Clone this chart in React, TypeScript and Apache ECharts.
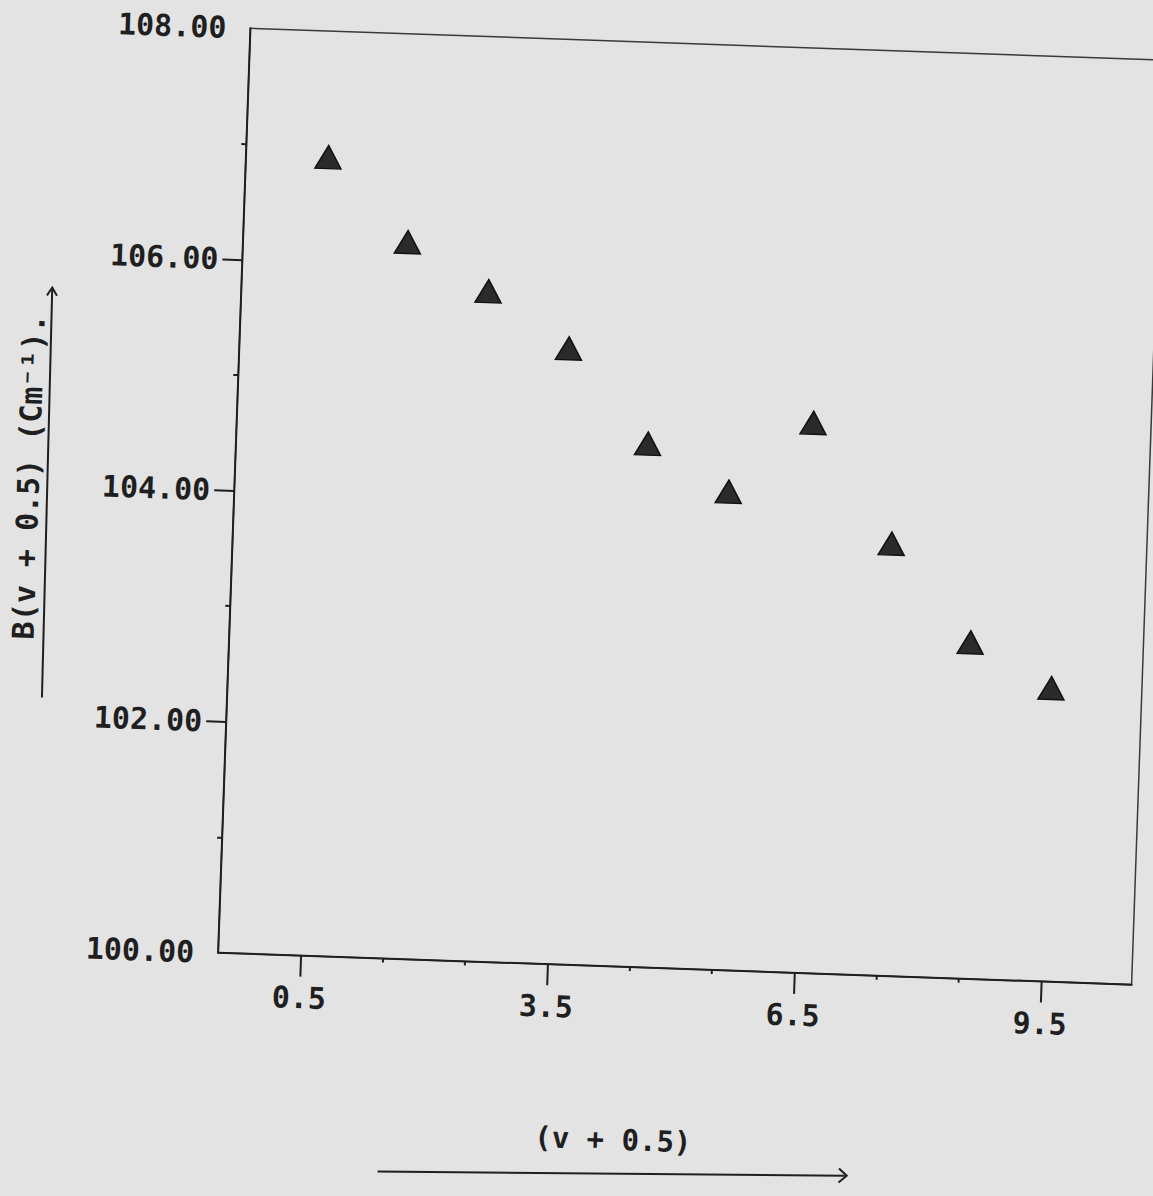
import React, { useEffect, useRef } from "react";
import * as echarts from "echarts";

// ---- data ----
const xValues = [0.5, 1.5, 2.5, 3.5, 4.5, 5.5, 6.5, 7.5, 8.5, 9.5];
const yValues = [106.91, 106.2, 105.8, 105.33, 104.53, 104.14, 104.76, 103.74, 102.91, 102.54];
const xTickLabels = [0.5, 3.5, 6.5, 9.5];
const xMinorTicks = [1.5, 2.5, 4.5, 5.5, 7.5, 8.5];
const yTickLabels = [100, 102, 104, 106, 108];
const yMajorTicks = [102, 104, 106];
const yMinorTicks = [101, 103, 105, 107];
const xTitle = "(v + 0.5)";
const yTitle = "B(v + 0.5) (Cm⁻¹).";

const INK = "#1f1f1f";
const PAPER = "#e3e3e4";
const FONT = "DejaVu Sans Mono";

export default function App() {
  const ref = useRef<HTMLDivElement>(null);

  useEffect(() => {
    if (!ref.current) return;
    const chart = echarts.init(ref.current, null, { renderer: "svg", width: 1153, height: 1196 });
    const points = xValues.map((x, i) => [x, yValues[i]]);

    const gridLeft = 234;
    const gridTop = 44;
    const gridW = 914;
    const gridH = 925;

    chart.setOption({
      animation: false,
      backgroundColor: "transparent",
      grid: {
        left: gridLeft,
        top: gridTop,
        width: gridW,
        height: gridH,
        show: true,
        borderColor: "#3a3a3a",
        borderWidth: 1.5,
        backgroundColor: "transparent",
      },
      xAxis: [
        {
          type: "value",
          min: -0.5,
          max: 10.6,
          position: "bottom",
          axisLine: { show: true, onZero: false, lineStyle: { color: INK, width: 2 } },
          axisTick: { show: true, customValues: xTickLabels, length: 21, lineStyle: { color: INK, width: 2 } },
          axisLabel: {
            show: true,
            customValues: xTickLabels,
            margin: 27,
            formatter: (v: number) => v.toFixed(1),
            fontFamily: FONT,
            fontWeight: "bold",
            fontSize: 30,
            color: INK,
          },
          splitLine: { show: false },
        },
        {
          type: "value",
          min: -0.5,
          max: 10.6,
          position: "bottom",
          axisLine: { show: false, onZero: false },
          axisTick: { show: true, customValues: xMinorTicks, length: 4, lineStyle: { color: INK, width: 2 } },
          axisLabel: { show: false },
          splitLine: { show: false },
        },
      ],
      yAxis: [
        {
          type: "value",
          min: 100,
          max: 108,
          position: "left",
          axisLine: { show: true, onZero: false, lineStyle: { color: INK, width: 2 } },
          axisTick: { show: true, customValues: yMajorTicks, length: 20, lineStyle: { color: INK, width: 2 } },
          axisLabel: {
            show: true,
            customValues: yTickLabels,
            margin: 24,
            formatter: (v: number) => v.toFixed(2),
            fontFamily: FONT,
            fontWeight: "bold",
            fontSize: 30,
            color: INK,
          },
          splitLine: { show: false },
        },
        {
          type: "value",
          min: 100,
          max: 108,
          position: "left",
          axisLine: { show: false, onZero: false },
          axisTick: { show: true, customValues: yMinorTicks, length: 5, lineStyle: { color: INK, width: 2 } },
          axisLabel: { show: false },
          splitLine: { show: false },
        },
      ],
      series: [
        {
          type: "scatter",
          xAxisIndex: 0,
          yAxisIndex: 0,
          data: points,
          symbol: "triangle",
          symbolSize: [26, 23],
          itemStyle: { color: "#2b2b2b", borderColor: "#111", borderWidth: 1.5, opacity: 1 },
        },
      ],
      graphic: [
        {
          type: "text",
          x: 28,
          y: 500,
          rotation: Math.PI / 2,
          style: {
            text: yTitle,
            fontFamily: FONT,
            fontWeight: "bold",
            fontSize: 30,
            fill: INK,
            textAlign: "center",
            textVerticalAlign: "middle",
          },
        },
        {
          type: "line",
          shape: { x1: 49, y1: 720, x2: 45, y2: 310 },
          style: { stroke: INK, lineWidth: 2 },
        },
        {
          type: "polyline",
          shape: { points: [[40, 318], [45, 310], [50, 318]] },
          style: { stroke: INK, lineWidth: 2, fill: "none" },
        },
        {
          type: "text",
          x: 635,
          y: 1142,
          style: {
            text: xTitle,
            fontFamily: FONT,
            fontWeight: "bold",
            fontSize: 29,
            fill: INK,
            textAlign: "center",
            textVerticalAlign: "middle",
          },
        },
        {
          type: "line",
          shape: { x1: 401, y1: 1182, x2: 868, y2: 1170 },
          style: { stroke: INK, lineWidth: 2 },
        },
        {
          type: "polyline",
          shape: { points: [[862, 1163], [870, 1170], [862, 1177]] },
          style: { stroke: INK, lineWidth: 2, fill: "none" },
        },
      ],
    });

    return () => chart.dispose();
  }, []);

  return (
    <div
      style={{
        position: "absolute",
        left: 0,
        top: 0,
        width: 1153,
        height: 1196,
        background: PAPER,
        overflow: "hidden",
      }}
    >
      <div
        ref={ref}
        style={{
          position: "absolute",
          left: 0,
          top: 0,
          width: 1153,
          height: 1196,
          transform: "rotate(2deg)",
          transformOrigin: "691.75px 506.5px",
        }}
      />
    </div>
  );
}
